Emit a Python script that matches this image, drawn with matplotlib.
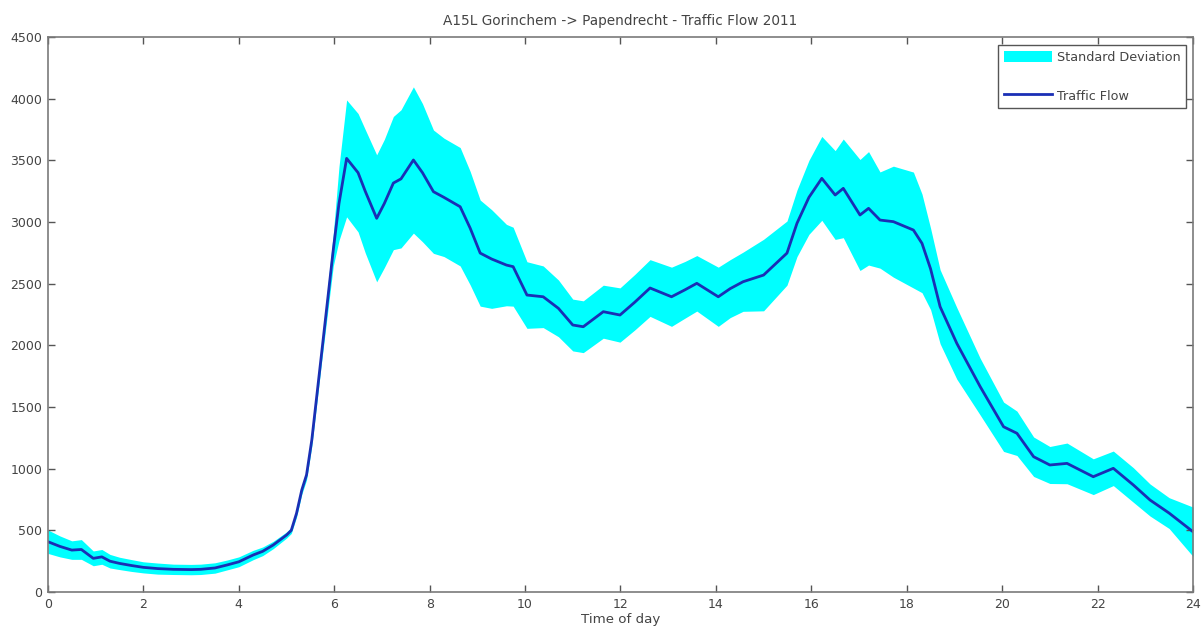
import matplotlib
matplotlib.use("Agg")
import matplotlib.pyplot as plt
import numpy as np

# Time of day (hours)
hours = [0.0, 0.25, 0.5, 0.7, 0.95, 1.13, 1.3, 1.5, 1.75, 2.0, 2.3, 2.63, 3.0, 3.2, 3.5,
         3.75, 4.0, 4.3, 4.5, 4.72, 5.0, 5.1, 5.21, 5.32, 5.42, 5.53, 5.74, 5.98, 6.1,
         6.26, 6.5, 6.65, 6.89, 7.05, 7.24, 7.4, 7.66, 7.85, 8.08, 8.3, 8.64, 8.85,
         9.06, 9.3, 9.61, 9.75, 10.04, 10.38, 10.7, 11.0, 11.22, 11.64, 11.99, 12.3,
         12.62, 13.07, 13.35, 13.6, 14.05, 14.3, 14.57, 15.0, 15.49, 15.7, 15.95,
         16.22, 16.5, 16.67, 17.02, 17.2, 17.44, 17.72, 18.14, 18.32, 18.5, 18.7,
         19.05, 19.54, 20.03, 20.31, 20.66, 21.0, 21.36, 21.91, 22.33, 22.75, 23.1,
         23.5, 24.0]

# Mean traffic flow
flow = [408, 370, 340, 345, 273, 285, 250, 232, 215, 200, 190, 184, 182, 184, 195,
        219, 245, 300, 330, 381, 462, 500, 638, 827, 950, 1232, 1950, 2773, 3150,
        3516, 3400, 3250, 3030, 3150, 3316, 3350, 3503, 3400, 3246, 3200, 3124, 2950,
        2748, 2700, 2651, 2638, 2408, 2394, 2300, 2165, 2151, 2273, 2246, 2350,
        2465, 2394, 2450, 2503, 2394, 2460, 2516, 2570, 2748, 2990, 3200,
        3354, 3219, 3273, 3057, 3111, 3016, 3003, 2935, 2827, 2620, 2313,
        2016, 1665, 1340, 1287, 1097, 1030, 1043, 935, 1003, 868, 746,
        640, 489]

# Standard deviation
std = [95, 85, 75, 80, 60, 60, 55, 50, 48, 45, 45, 42, 42, 42, 42,
       40, 40, 38, 35, 30, 25, 25, 30, 35, 40, 50, 70, 130, 300,
       474, 480, 500, 515, 520, 540, 560, 593, 560, 500, 480, 480, 460,
       430, 400, 330, 320, 270, 250, 230, 210, 210, 215, 220, 225,
       230, 240, 230, 225, 240, 235, 240, 290, 260, 270, 300,
       340, 360, 400, 450, 460, 390, 450, 470, 400, 330, 300,
       290, 230, 200, 180, 160, 150, 165, 145, 140, 140, 130,
       125, 200]

x_ticks = list(range(0, 25, 2))
y_ticks = list(range(0, 4501, 500))

h = np.array(hours)
m = np.array(flow, dtype=float)
s = np.array(std, dtype=float)

fig = plt.figure(figsize=(12.02, 6.34), dpi=100)
ax = fig.add_axes([0.0399, 0.0662, 0.9526, 0.8754])

ax.fill_between(h, m - s, m + s, color='#00ffff', linewidth=0, label='Standard Deviation')
ax.plot(h, m, color='#1a2fb5', linewidth=2, label='Traffic Flow')

ax.set_xlim(0, 24)
ax.set_ylim(0, 4500)
ax.set_xticks(x_ticks)
ax.set_yticks(y_ticks)
ax.tick_params(direction='in', top=True, right=True, length=5, width=1,
               colors='#555555', labelsize=9, labelcolor='#444444', pad=4)
for sp in ax.spines.values():
    sp.set_color('#7a7a7a')
    sp.set_linewidth(1.2)

ax.set_title('A15L Gorinchem -> Papendrecht - Traffic Flow 2011', fontsize=9.8,
             color='#444444', pad=9)
ax.set_xlabel('Time of day', fontsize=9.6, color='#444444', labelpad=2)

leg = ax.legend(loc='upper right', bbox_to_anchor=(0.994, 0.9856), borderaxespad=0,
                fancybox=False, edgecolor='#555555', fontsize=9.2, labelspacing=2.0,
                handlelength=3.8, handleheight=1.0, handletextpad=0.35,
                borderpad=0.45, framealpha=1)
for t in leg.get_texts():
    t.set_color('#444444')

fig.savefig('out.png', dpi=100)
